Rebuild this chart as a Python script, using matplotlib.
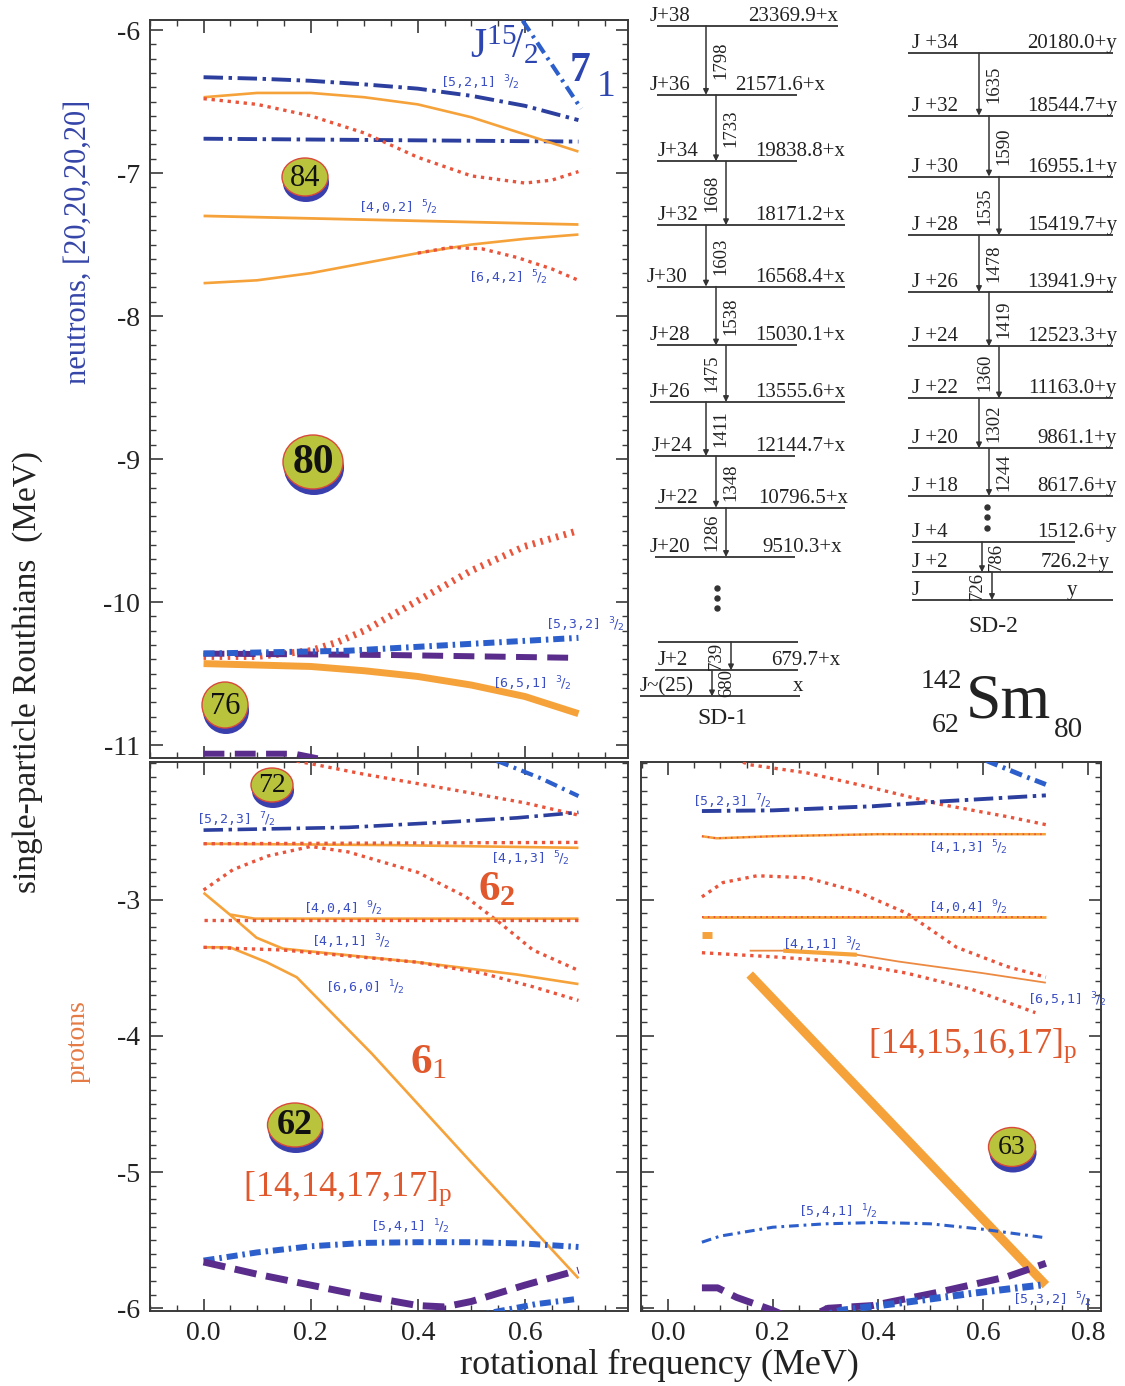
import matplotlib
matplotlib.use('Agg')
import matplotlib.pyplot as plt
from matplotlib.patches import Ellipse
from matplotlib.ticker import MultipleLocator, FixedLocator, FormatStrFormatter

# ======================= DATA =======================
# --- neutron Routhians (top-left panel), x = rotational frequency (MeV), y = e' (MeV)
n_521_x = [0.0, 0.1, 0.2, 0.3, 0.4, 0.5, 0.6, 0.7]
n_521_y = [-6.33, -6.34, -6.355, -6.38, -6.41, -6.46, -6.53, -6.63]
n_521b_x = [0.0, 0.35, 0.70]
n_521b_y = [-6.76, -6.77, -6.78]
n_or1_x = [0.0, 0.1, 0.2, 0.3, 0.4, 0.5, 0.6, 0.7]
n_or1_y = [-6.47, -6.44, -6.44, -6.47, -6.52, -6.61, -6.73, -6.85]
n_rd1_x = [0.0, 0.1, 0.2, 0.3, 0.4, 0.5, 0.6, 0.65, 0.7]
n_rd1_y = [-6.48, -6.52, -6.60, -6.72, -6.89, -7.02, -7.07, -7.05, -6.99]
n_402_x = [0.0, 0.35, 0.70]
n_402_y = [-7.30, -7.33, -7.36]
n_or2_x = [0.0, 0.1, 0.2, 0.3, 0.4, 0.5, 0.6, 0.7]
n_or2_y = [-7.77, -7.75, -7.70, -7.63, -7.56, -7.50, -7.46, -7.43]
n_642_x = [0.40, 0.46, 0.52, 0.585, 0.65, 0.70]
n_642_y = [-7.56, -7.52, -7.53, -7.59, -7.67, -7.75]
n_j152_x = [0.55, 0.595, 0.65, 0.705]
n_j152_y = [-5.69, -5.93, -6.24, -6.55]
n_rd2_x = [0.0, 0.10, 0.20, 0.25, 0.30, 0.40, 0.50, 0.60, 0.70]
n_rd2_y = [-10.38, -10.38, -10.34, -10.28, -10.20, -9.99, -9.78, -9.61, -9.50]
n_532_x = [0.0, 0.27, 0.46, 0.70]
n_532_y = [-10.36, -10.34, -10.30, -10.25]
n_pd_x = [0.0, 0.35, 0.70]
n_pd_y = [-10.36, -10.37, -10.39]
n_651_x = [0.0, 0.1, 0.2, 0.3, 0.4, 0.5, 0.6, 0.7]
n_651_y = [-10.43, -10.44, -10.45, -10.48, -10.52, -10.58, -10.66, -10.78]
n_low_x = [0.0, 0.17, 0.25]
n_low_y = [-11.06, -11.06, -11.12]

# --- proton Routhians, configuration [14,14,17,17]p (bottom-left panel)
p1_rd1_x = [0.10, 0.21, 0.30, 0.46, 0.60, 0.70]
p1_rd1_y = [-1.93, -2.01, -2.08, -2.19, -2.29, -2.38]
p1_bd1_x = [0.50, 0.553, 0.63, 0.70]
p1_bd1_y = [-1.93, -1.99, -2.11, -2.24]
p1_523_x = [0.0, 0.27, 0.46, 0.585, 0.70]
p1_523_y = [-2.49, -2.47, -2.43, -2.40, -2.36]
p1_413_x = [0.0, 0.35, 0.70]
p1_413_y = [-2.59, -2.60, -2.62]
p1_rd2_x = [0.0, 0.35, 0.70]
p1_rd2_y = [-2.59, -2.585, -2.58]
p1_rd3_x = [0.0, 0.055, 0.12, 0.20, 0.27, 0.40, 0.49, 0.553, 0.615, 0.70]
p1_rd3_y = [-2.93, -2.78, -2.68, -2.61, -2.65, -2.80, -2.98, -3.17, -3.37, -3.52]
p1_orA_x = [0.0, 0.049, 0.099, 0.148, 0.40, 0.585, 0.70]
p1_orA_y = [-2.95, -3.11, -3.28, -3.36, -3.46, -3.55, -3.62]
p1_404_x = [0.05, 0.095, 0.70]
p1_404_y = [-3.11, -3.14, -3.14]
p1_rd4_x = [0.0, 0.70]
p1_rd4_y = [-3.15, -3.15]
p1_660_x = [0.0, 0.049, 0.118, 0.174, 0.314, 0.50, 0.70]
p1_660_y = [-3.35, -3.35, -3.46, -3.57, -4.13, -4.93, -5.78]
p1_rd5_x = [0.0, 0.148, 0.40, 0.52, 0.615, 0.70]
p1_rd5_y = [-3.35, -3.37, -3.46, -3.54, -3.64, -3.74]
p1_541_x = [0.0, 0.1, 0.2, 0.3, 0.4, 0.5, 0.6, 0.7]
p1_541_y = [-5.65, -5.59, -5.545, -5.52, -5.515, -5.515, -5.525, -5.55]
p1_pd_x = [0.0, 0.1, 0.2, 0.3, 0.4, 0.45, 0.5, 0.6, 0.7]
p1_pd_y = [-5.66, -5.75, -5.83, -5.91, -5.98, -5.99, -5.95, -5.83, -5.72]
p1_532_x = [0.50, 0.54, 0.62, 0.70]
p1_532_y = [-6.07, -6.03, -5.97, -5.93]

# --- proton Routhians, configuration [14,15,16,17]p (bottom-right panel)
p2_rd1_x = [0.10, 0.156, 0.265, 0.39, 0.518, 0.645, 0.72]
p2_rd1_y = [-1.93, -2.01, -2.07, -2.18, -2.30, -2.39, -2.45]
p2_bd1_x = [0.56, 0.613, 0.67, 0.72]
p2_bd1_y = [-1.90, -1.99, -2.08, -2.155]
p2_523_x = [0.065, 0.20, 0.39, 0.518, 0.72]
p2_523_y = [-2.35, -2.345, -2.315, -2.28, -2.235]
p2_413_x = [0.065, 0.093, 0.20, 0.40, 0.72]
p2_413_y = [-2.535, -2.55, -2.535, -2.52, -2.52]
p2_rd3_x = [0.065, 0.105, 0.17, 0.265, 0.36, 0.455, 0.55, 0.645, 0.72]
p2_rd3_y = [-2.98, -2.875, -2.825, -2.84, -2.94, -3.10, -3.35, -3.49, -3.57]
p2_404_x = [0.065, 0.72]
p2_404_y = [-3.13, -3.13]
p2_bar_x = [0.065, 0.085]
p2_bar_y = [-3.26, -3.26]
p2_rd4_x = [0.065, 0.20, 0.33, 0.455, 0.58, 0.70]
p2_rd4_y = [-3.39, -3.42, -3.455, -3.54, -3.66, -3.83]
p2_411_x = [0.156, 0.22, 0.36, 0.44, 0.60, 0.72]
p2_411_y = [-3.375, -3.375, -3.405, -3.455, -3.54, -3.61]
p2_diag_x = [0.156, 0.72]
p2_diag_y = [-3.55, -5.83]
p2_541_x = [0.065, 0.1, 0.2, 0.3, 0.4, 0.5, 0.6, 0.715]
p2_541_y = [-5.515, -5.47, -5.405, -5.38, -5.37, -5.38, -5.42, -5.48]
p2_pd_x = [0.065, 0.095, 0.131, 0.20, 0.25, 0.305, 0.39, 0.518, 0.645, 0.72]
p2_pd_y = [-5.85, -5.85, -5.92, -6.015, -6.10, -6.00, -5.98, -5.88, -5.77, -5.67]
p2_532_x = [0.28, 0.33, 0.455, 0.58, 0.71]
p2_532_y = [-6.07, -6.015, -5.955, -5.89, -5.83]

# --- axis ticks
n_yticks = [-11, -10, -9, -8, -7, -6]
p_yticks = [-6, -5, -4, -3]
p1_xticks = [0.0, 0.2, 0.4, 0.6]
p2_xticks = [0.0, 0.2, 0.4, 0.6, 0.8]

# --- level scheme SD-1 (keV)
sd1_spins = ['J+38', 'J+36', 'J+34', 'J+32', 'J+30', 'J+28', 'J+26', 'J+24', 'J+22', 'J+20']
sd1_E = [23369.9, 21571.6, 19838.8, 18171.2, 16568.4, 15030.1, 13555.6, 12144.7, 10796.5, 9510.3]
sd1_Eg = [1798, 1733, 1668, 1603, 1538, 1475, 1411, 1348, 1286]
sd1_low_spins = ['', 'J+2', 'J~(25)']
sd1_low_E = [1418.7, 679.7, 0.0]
sd1_low_vals = ['', '679.7+x', 'x']
sd1_low_Eg = [739, 680]

# --- level scheme SD-2 (keV)
sd2_spins = ['J +34', 'J +32', 'J +30', 'J +28', 'J +26', 'J +24', 'J +22', 'J +20', 'J +18']
sd2_E = [20180.0, 18544.7, 16955.1, 15419.7, 13941.9, 12523.3, 11163.0, 9861.1, 8617.6]
sd2_Eg = [1635, 1590, 1535, 1478, 1419, 1360, 1302, 1244]
sd2_low_spins = ['J +4', 'J +2', 'J']
sd2_low_E = [1512.6, 726.2, 0.0]
sd2_low_vals = ['1512.6+y', '726.2+y', 'y']
sd2_low_Eg = [786, 726]

# ======================= STYLE =======================
plt.rcParams.update({
    'font.family': ['Liberation Serif', 'DejaVu Serif'],
    'mathtext.fontset': 'custom',
    'mathtext.rm': 'Liberation Serif',
    'mathtext.it': 'Liberation Serif:italic',
    'mathtext.bf': 'Liberation Serif:bold',
    'axes.unicode_minus': False,
    'lines.scale_dashes': False,
})

W, H = 1125, 1386
fig = plt.figure(figsize=(W / 100, H / 100), dpi=100)
fig.patch.set_facecolor('white')

BLUE = '#2c5fcb'
NAVY = '#2c3f9e'
PURPLE = '#5a2d8c'
ORANGE = '#f6a23a'
RED = '#e9553c'
LBL = '#3b4fc2'
BIG = '#e0582c'
INK = '#333333'

DD_LONG = (14, 4, 2.5, 4)
DD_THICK = (8, 3.5, 1.8, 3.5)
DD_MID = (9, 4, 2, 4)
DOT = (2.4, 3.4)
DASH_P = (15, 7.5)


def px_axes(l, t, r, b, **kw):
    return fig.add_axes([l / W, 1 - b / H, (r - l) / W, (b - t) / H], **kw)


def L(ax, x, y, color, lw, dashes=None, z=3):
    ln, = ax.plot(x, y, color=color, lw=lw, zorder=z, solid_capstyle='butt',
                  dash_capstyle='butt', solid_joinstyle='round')
    if dashes:
        ln.set_dashes(dashes)
    return ln


def nil(ax, x, y, s, num, den, fs=9.5):
    ax.text(x, y, s + r' $^{%s}\!/_{%s}$' % (num, den), fontsize=fs, color=LBL,
            family='DejaVu Sans Mono', math_fontfamily='dejavusans',
            ha='left', va='center', zorder=6)


ax_n = px_axes(150, 20, 628, 758)
ax_p1 = px_axes(150, 762, 628, 1311)
ax_p2 = px_axes(641, 762, 1101, 1311)

ax_n.set_xlim(-0.1, 0.7925)
ax_n.set_ylim(-11.09, -5.93)
ax_p1.set_xlim(-0.1, 0.7925)
ax_p1.set_ylim(-6.02, -1.99)
ax_p2.set_xlim(-0.051, 0.825)
ax_p2.set_ylim(-6.02, -1.99)

for ax in (ax_n, ax_p1, ax_p2):
    for s in ax.spines.values():
        s.set_linewidth(1.4)
        s.set_color('#3a3a3a')
    ax.xaxis.set_minor_locator(MultipleLocator(0.05))
    ax.yaxis.set_minor_locator(MultipleLocator(0.1))
    ax.xaxis.set_major_formatter(FormatStrFormatter('%.1f'))
    ax.yaxis.set_major_formatter(FormatStrFormatter('%d'))
    ax.tick_params(which='both', direction='in', top=True, right=True,
                   color='#3a3a3a', labelsize=20, pad=7, labelcolor='#222222')
    ax.tick_params(which='major', length=9, width=1.2)
    ax.tick_params(which='minor', length=4.5, width=1.0)

ax_n.yaxis.set_major_locator(FixedLocator(n_yticks))
ax_n.xaxis.set_major_locator(FixedLocator(p1_xticks))
ax_n.tick_params(labelbottom=False)
ax_p1.yaxis.set_major_locator(FixedLocator(p_yticks))
ax_p1.xaxis.set_major_locator(FixedLocator(p1_xticks))
ax_p2.yaxis.set_major_locator(FixedLocator(p_yticks))
ax_p2.xaxis.set_major_locator(FixedLocator(p2_xticks))
ax_p2.tick_params(labelleft=False)

# ---------------- neutrons ----------------
a = ax_n
L(a, n_521_x, n_521_y, NAVY, 2.8, DD_LONG)
L(a, n_521b_x, n_521b_y, NAVY, 2.8, DD_LONG)
L(a, n_or1_x, n_or1_y, ORANGE, 1.9)
L(a, n_rd1_x, n_rd1_y, RED, 2.4, DOT)
L(a, n_402_x, n_402_y, ORANGE, 2.0)
L(a, n_or2_x, n_or2_y, ORANGE, 1.9)
L(a, n_642_x, n_642_y, RED, 2.4, DOT)
L(a, n_j152_x, n_j152_y, BLUE, 3.0, DD_MID)
L(a, n_rd2_x, n_rd2_y, RED, 5.0, (1.8, 4.0), z=2)
L(a, n_pd_x, n_pd_y, PURPLE, 4.3, DASH_P)
L(a, n_532_x, n_532_y, BLUE, 4.3, DD_THICK, z=4)
L(a, n_651_x, n_651_y, ORANGE, 5.0)
L(a, n_low_x, n_low_y, PURPLE, 4.3, DASH_P)

nil(a, 0.441, -6.37, '[5,2,1]', 3, 2)
nil(a, 0.288, -7.24, '[4,0,2]', 5, 2)
nil(a, 0.493, -7.73, '[6,4,2]', 5, 2)
nil(a, 0.637, -10.16, '[5,3,2]', 3, 2)
nil(a, 0.538, -10.57, '[6,5,1]', 3, 2)
a.text(0.497, -6.11, r'J$^{15}\!/_{2}$', fontsize=30, color='#2c45b0', ha='left', va='center')
a.text(0.684, -6.29, '7', fontsize=30, fontweight='bold', color='#2c45b0', ha='left', va='center')
a.text(0.735, -6.40, '1', fontsize=27, color='#2c45b0', ha='left', va='center')

# ---------------- protons [14,14,17,17] ----------------
a = ax_p1
L(a, p1_rd1_x, p1_rd1_y, RED, 2.4, DOT)
L(a, p1_bd1_x, p1_bd1_y, BLUE, 3.0, DD_MID)
L(a, p1_523_x, p1_523_y, NAVY, 2.6, DD_LONG)
L(a, p1_413_x, p1_413_y, ORANGE, 1.9)
L(a, p1_rd2_x, p1_rd2_y, RED, 2.4, DOT)
L(a, p1_rd3_x, p1_rd3_y, RED, 2.4, DOT)
L(a, p1_orA_x, p1_orA_y, ORANGE, 1.9)
L(a, p1_404_x, p1_404_y, ORANGE, 1.9)
L(a, p1_rd4_x, p1_rd4_y, RED, 2.4, DOT)
L(a, p1_660_x, p1_660_y, ORANGE, 1.9)
L(a, p1_rd5_x, p1_rd5_y, RED, 2.4, DOT)
L(a, p1_541_x, p1_541_y, BLUE, 4.3, DD_THICK)
L(a, p1_pd_x, p1_pd_y, PURPLE, 5.0, (16, 7))
L(a, p1_532_x, p1_532_y, BLUE, 4.3, DD_THICK)

nil(a, -0.015, -2.41, '[5,2,3]', 7, 2)
nil(a, 0.535, -2.70, '[4,1,3]', 5, 2)
nil(a, 0.185, -3.07, '[4,0,4]', 9, 2)
nil(a, 0.200, -3.31, '[4,1,1]', 3, 2)
nil(a, 0.226, -3.65, '[6,6,0]', 1, 2)
nil(a, 0.310, -5.40, '[5,4,1]', 1, 2)
a.text(0.512, -2.93, r'$\mathbf{6}_{\mathbf{2}}$', fontsize=31, color=BIG, ha='left', va='center')
a.text(0.385, -4.20, r'$\mathbf{6}_{\mathrm{1}}$', fontsize=31, color=BIG, ha='left', va='center')
a.text(0.073, -5.12, r'[14,14,17,17]$_{\mathrm{p}}$', fontsize=26, color=BIG, ha='left', va='center')

# ---------------- protons [14,15,16,17] ----------------
a = ax_p2
L(a, p2_rd1_x, p2_rd1_y, RED, 2.4, DOT)
L(a, p2_bd1_x, p2_bd1_y, BLUE, 3.5, DD_MID)
L(a, p2_523_x, p2_523_y, NAVY, 2.8, DD_LONG)
L(a, p2_413_x, p2_413_y, ORANGE, 1.8)
L(a, p2_413_x, p2_413_y, RED, 1.3, (1.2, 3.0))
L(a, p2_rd3_x, p2_rd3_y, RED, 2.4, DOT)
L(a, p2_404_x, p2_404_y, ORANGE, 2.0)
L(a, p2_404_x, p2_404_y, RED, 1.4, (1.2, 3.0))
L(a, p2_bar_x, p2_bar_y, ORANGE, 5.0)
L(a, p2_rd4_x, p2_rd4_y, RED, 2.4, DOT)
L(a, p2_411_x, p2_411_y, '#ec8a42', 1.3)
L(a, p2_411_x[1:3], p2_411_y[1:3], ORANGE, 3.0)
L(a, p2_diag_x, p2_diag_y, ORANGE, 6.5)
L(a, p2_541_x, p2_541_y, BLUE, 2.2, (7, 3.5, 2, 3.5))
L(a, p2_pd_x, p2_pd_y, PURPLE, 5.0, (16, 7))
L(a, p2_532_x, p2_532_y, BLUE, 5.0, DD_THICK)

nil(a, 0.046, -2.28, '[5,2,3]', 7, 2)
nil(a, 0.495, -2.62, '[4,1,3]', 5, 2)
nil(a, 0.495, -3.06, '[4,0,4]', 9, 2)
nil(a, 0.217, -3.33, '[4,1,1]', 3, 2)
nil(a, 0.684, -3.735, '[6,5,1]', 3, 2)
nil(a, 0.248, -5.29, '[5,4,1]', 1, 2)
nil(a, 0.655, -5.94, '[5,3,2]', 5, 2)
a.text(0.381, -4.07, r'[14,15,16,17]$_{\mathrm{p}}$', fontsize=26, color=BIG, ha='left', va='center')

# ---------------- axis titles ----------------
fig.text(28 / W, 1 - 672 / H, 'single-particle Routhians  (MeV)', rotation=90,
         ha='center', va='center', fontsize=24, color='#222222')
fig.text(78 / W, 1 - 242 / H, 'neutrons, [20,20,20,20]', rotation=90,
         ha='center', va='center', fontsize=22, color='#3545a8')
fig.text(78 / W, 1 - 1042 / H, 'protons', rotation=90,
         ha='center', va='center', fontsize=20, color='#e57b45')
fig.text(659 / W, 1 - 1365 / H, 'rotational frequency (MeV)',
         ha='center', va='center', fontsize=26, color='#222222')

# ---------------- level schemes ----------------
SCALE = 0.03831  # px per keV


def scheme_axes(x0, x1, ytop, energies):
    etop, ebot = max(energies), min(energies)
    hpx = (etop - ebot) * SCALE
    ax = fig.add_axes([x0 / W, 1 - (ytop + hpx) / H, (x1 - x0) / W, hpx / H])
    ax.set_xlim(x0, x1)
    ax.set_ylim(ebot, etop)
    ax.axis('off')
    return ax


def levels(ax, E, spins, vals, x_spin, x_l0, x_l1, x_val, fs=15):
    for e, s, v, xs, l0, l1, xv in zip(E, spins, vals, x_spin, x_l0, x_l1, x_val):
        ax.plot([l0, l1], [e, e], color=INK, lw=1.3, clip_on=False, solid_capstyle='butt')
        if s:
            ax.text(xs, e, s, fontsize=fs, ha='left', va='bottom', color='#222222')
        if v:
            ax.text(xv, e, v, fontsize=fs, ha='right', va='bottom', color='#222222')


def transitions(ax, E, Eg, xs, sides, fs=13.5):
    for i, g in enumerate(Eg):
        x = xs[i]
        ax.annotate('', xy=(x, E[i + 1]), xytext=(x, E[i]),
                    arrowprops=dict(arrowstyle='-|>', lw=1.1, color=INK,
                                    mutation_scale=8, shrinkA=0, shrinkB=0),
                    annotation_clip=False)
        side = sides[i]
        ax.text(x + 6 * side, 0.5 * (E[i] + E[i + 1]), str(g), rotation=90, fontsize=fs,
                ha='left' if side > 0 else 'right', va='center', color='#222222')


# SD-1
s1 = scheme_axes(640, 860, 26, sd1_E)
levels(s1, sd1_E, sd1_spins, ['%.1f+x' % e for e in sd1_E],
       [650, 650, 658, 658, 647, 650, 650, 652, 658, 650],
       [657, 657, 657, 657, 657, 657, 650, 655, 655, 655],
       [838, 797, 797, 845, 845, 797, 845, 795, 845, 795],
       [838, 825, 845, 845, 845, 845, 845, 845, 848, 842])
transitions(s1, sd1_E, sd1_Eg, [706 + 10 * (i % 3) for i in range(len(sd1_Eg))],
            [1 if i % 3 < 2 else -1 for i in range(len(sd1_Eg))])
s1b = scheme_axes(640, 860, 642, sd1_low_E)
levels(s1b, sd1_low_E, sd1_low_spins, sd1_low_vals,
       [658, 658, 640], [658, 655, 640], [798, 798, 800], [840, 840, 803])
transitions(s1b, sd1_low_E, sd1_low_Eg, [731, 712], [-1, 1])

# SD-2
s2 = scheme_axes(900, 1125, 53, sd2_E)
levels(s2, sd2_E, sd2_spins, ['%.1f+y' % e for e in sd2_E],
       [912] * len(sd2_E), [908] * len(sd2_E), [1113] * len(sd2_E), [1117] * len(sd2_E))
transitions(s2, sd2_E, sd2_Eg, [979 + 10 * (i % 3) for i in range(len(sd2_Eg))],
            [1 if i % 3 < 2 else -1 for i in range(len(sd2_Eg))])
s2b = scheme_axes(900, 1125, 542, sd2_low_E)
levels(s2b, sd2_low_E, sd2_low_spins, sd2_low_vals,
       [912, 912, 912], [912, 912, 912], [1075, 1113, 1113], [1117, 1110, 1077])
transitions(s2b, sd2_low_E, sd2_low_Eg, [982, 992], [1, -1])

# ---------------- overlay: labels, circles, dots ----------------
ov = fig.add_axes([0, 0, 1, 1])
ov.set_xlim(0, W)
ov.set_ylim(H, 0)
ov.axis('off')

for yy in (588, 598, 608):
    ov.plot(717, yy, 'o', ms=3.6, color=INK)
for yy in (507, 517, 528):
    ov.plot(987, yy, 'o', ms=3.6, color=INK)

ov.text(722, 718, 'SD-1', fontsize=17, ha='center', va='center', color='#222222')
ov.text(993, 627, 'SD-2', fontsize=17, ha='center', va='center', color='#222222')
ov.text(1008, 703, 'Sm', fontsize=46, ha='center', va='center', color='#222222')
ov.text(941, 682, '142', fontsize=20, ha='center', va='center', color='#222222')
ov.text(946, 726, '62', fontsize=20, ha='center', va='center', color='#222222')
ov.text(1068, 730, '80', fontsize=21, ha='center', va='center', color='#222222')

circles = [  # (label, cx, cy, w, h, fontsize, bold)
    ('84', 305, 177, 46, 38, 22, False),
    ('80', 313, 462, 60, 54, 30, True),
    ('76', 225, 705, 46, 46, 22, False),
    ('72', 272, 785, 42, 34, 20, False),
    ('62', 295, 1125, 55, 44, 26, True),
    ('63', 1012, 1147, 47, 39, 20, False),
]
for lab, cx, cy, w, h, fs, bold in circles:
    ov.add_patch(Ellipse((cx + 1, cy + 6), w, h, facecolor='#3a3fae', edgecolor='none', zorder=5))
    ov.add_patch(Ellipse((cx, cy), w, h, facecolor='#b9c43c', edgecolor='#d9493a', lw=1.0, zorder=6))
    ov.text(cx, cy + 1, lab, fontsize=fs, fontweight='bold' if bold else 'normal',
            ha='center', va='center', color='#111111', zorder=7)

fig.savefig('out.png', dpi=100, facecolor='white')
